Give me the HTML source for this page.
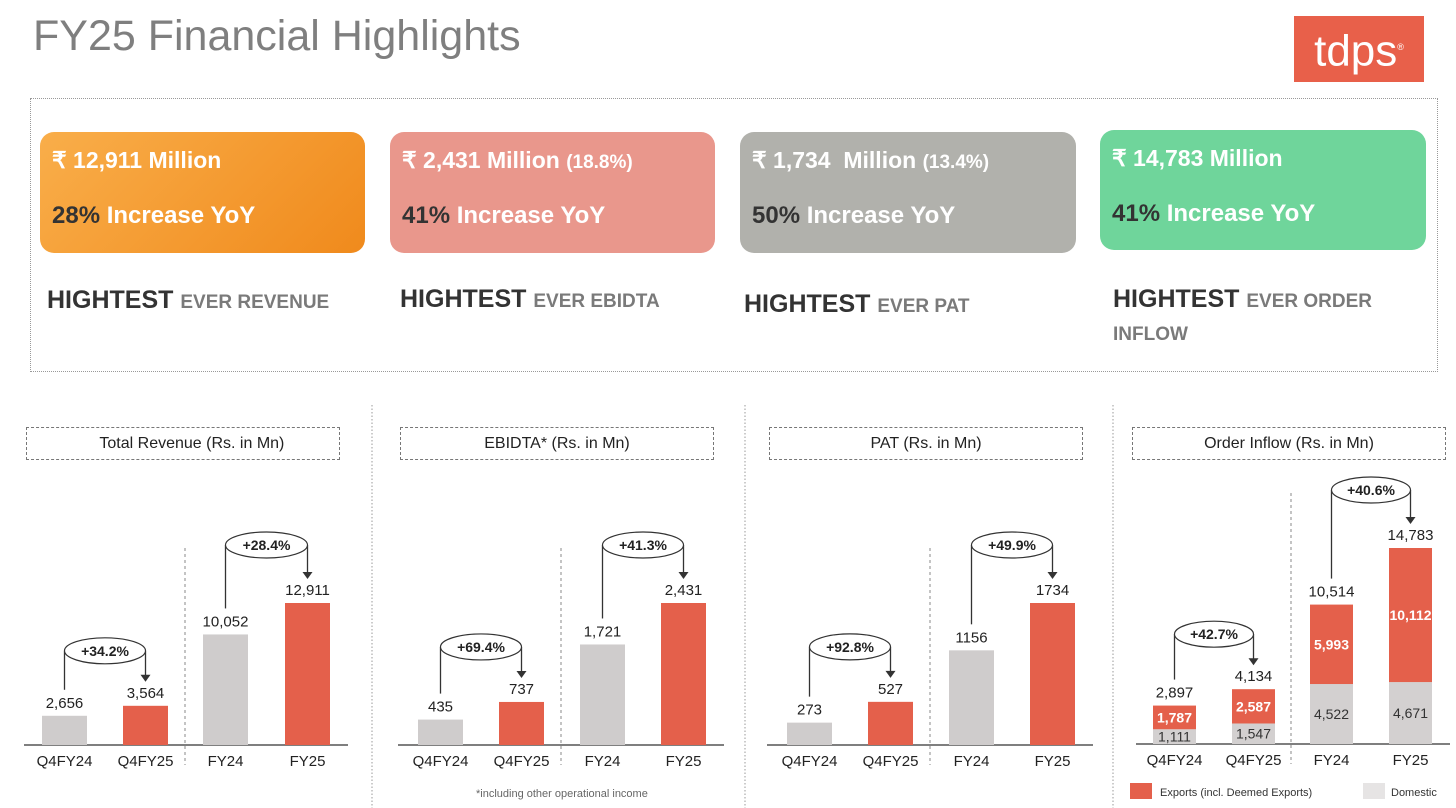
<!DOCTYPE html>
<html><head><meta charset="utf-8">
<style>
body{margin:0;width:1456px;height:808px;background:#fff;position:relative;overflow:hidden;font-family:"Liberation Sans",sans-serif}
.abs{position:absolute}
.card{position:absolute;border-radius:14px;color:#fff;font-weight:bold}
.card .l1{position:absolute;left:12px;top:15px;font-size:23px}
.card .l2{position:absolute;left:12px;top:70px;font-size:24px}
.card .l2 b{color:#333}
.hl{position:absolute;font-weight:bold;color:#333;font-size:25px;line-height:31px}
.hl span{font-size:19px;color:#7a7a7a}
.ttl{position:absolute;border:1px dashed #777;height:33px;box-sizing:border-box;font-size:16px;color:#222;display:flex;align-items:center;justify-content:center}
</style></head><body>
<div class="abs" style="left:33px;top:12px;font-size:43px;color:#7f7f7f">FY25 Financial Highlights</div>
<div class="abs" style="left:1294px;top:16px;width:130px;height:66px;background:#e8604a;color:#fff;font-size:44px;text-align:center;line-height:62px">tdps<sup style="font-size:9px">®</sup></div>
<div class="abs" style="left:30px;top:98px;width:1408px;height:274px;border:1px dotted #999;box-sizing:border-box"></div>

<div class="card" style="left:40px;top:132px;width:325px;height:121px;background:linear-gradient(135deg,#f9ae4a,#f08a1c)"><div class="l1">₹ 12,911 Million</div><div class="l2"><b>28%</b> Increase YoY</div></div>
<div class="card" style="left:390px;top:132px;width:325px;height:121px;background:#e9978c"><div class="l1">₹ 2,431 Million <span style="font-size:19px">(18.8%)</span></div><div class="l2"><b>41%</b> Increase YoY</div></div>
<div class="card" style="left:740px;top:132px;width:336px;height:121px;background:#b1b1ac"><div class="l1">₹ 1,734&nbsp; Million <span style="font-size:19px">(13.4%)</span></div><div class="l2"><b>50%</b> Increase YoY</div></div>
<div class="card" style="left:1100px;top:130px;width:326px;height:120px;background:#6fd59b"><div class="l1">₹ 14,783 Million</div><div class="l2" style="top:70px"><b>41%</b> Increase YoY</div></div>

<div class="hl" style="left:47px;top:285px">HIGHTEST <span>EVER REVENUE</span></div>
<div class="hl" style="left:400px;top:284px">HIGHTEST <span>EVER EBIDTA</span></div>
<div class="hl" style="left:744px;top:289px">HIGHTEST <span>EVER PAT</span></div>
<div class="hl" style="left:1113px;top:284px;width:300px">HIGHTEST <span>EVER ORDER INFLOW</span></div>

<div class="ttl" style="left:26px;top:427px;width:314px">&nbsp;&nbsp;&nbsp;&nbsp;Total Revenue (Rs. in Mn)</div>
<div class="ttl" style="left:400px;top:427px;width:314px">EBIDTA* (Rs. in Mn)</div>
<div class="ttl" style="left:769px;top:427px;width:314px">PAT (Rs. in Mn)</div>
<div class="ttl" style="left:1132px;top:427px;width:314px">Order Inflow (Rs. in Mn)</div>

<svg id="c" class="abs" style="left:0;top:0" width="1456" height="808"></svg>
<script>
const categories=["Q4FY24","Q4FY25","FY24","FY25"];
const revenueValues=[2656,3564,10052,12911];
const revenueLabels=["2,656","3,564","10,052","12,911"];
const revenueGrowth=["+34.2%","+28.4%"];
const ebitdaValues=[435,737,1721,2431];
const ebitdaLabels=["435","737","1,721","2,431"];
const ebitdaGrowth=["+69.4%","+41.3%"];
const patValues=[273,527,1156,1734];
const patLabels=["273","527","1156","1734"];
const patGrowth=["+92.8%","+49.9%"];
const domesticValues=[1111,1547,4522,4671];
const exportValues=[1787,2587,5993,10112];
const orderTotalLabels=["2,897","4,134","10,514","14,783"];
const domesticLabels=["1,111","1,547","4,522","4,671"];
const exportLabels=["1,787","2,587","5,993","10,112"];
const orderGrowth=["+42.7%","+40.6%"];

const svg=document.getElementById('c');
const NS='http://www.w3.org/2000/svg';
function mk(t,a,txt){const e=document.createElementNS(NS,t);for(const k in a)e.setAttribute(k,a[k]);if(txt!==undefined)e.textContent=txt;svg.appendChild(e);return e;}
const RED='#e4604b',GRAY='#cfcccc';
[372,745,1113].forEach((x,i)=>{const l=mk('line',{x1:x,y1:405,x2:x,y2:808,stroke:'#999','stroke-dasharray':'1.5,2'});

});

function chart(name,x0,x1,base,maxVal,maxPx,bx,bw,divX,stacks,labels,growth){
  const y=v=>base-v/maxVal*maxPx;
  const ax=mk('line',{x1:x0,y1:base,x2:x1,y2:base,stroke:'#333','stroke-width':1.2});
  
  
  const dv=mk('line',{x1:divX,y1:y(maxVal)-55,x2:divX,y2:base+20,stroke:'#888','stroke-dasharray':'3,3'});
  
  
  const tops=[];
  categories.forEach((c,i)=>{
    let acc=0;
    stacks.forEach((s,si)=>{
      const v=s.vals[i];
      const fill=s.color?s.color:(i%2?RED:GRAY);
      const r=mk('rect',{x:bx[i],y:y(acc+v),width:bw,height:y(acc)-y(acc+v),fill:fill});
      
      
      if(s.labels){const t=mk('text',{x:bx[i]+bw/2,y:(y(acc)+y(acc+v))/2+5,'text-anchor':'middle','font-size':14,fill:s.lc,'font-weight':s.bold?'bold':'normal'},s.labels[i]);
        
        }
      acc+=v;
    });
    tops.push(y(acc));
    const vl=mk('text',{x:bx[i]+bw/2,y:y(acc)-8,'text-anchor':'middle','font-size':15,fill:'#222'},labels[i]);
    
    
    const cl=mk('text',{x:bx[i]+bw/2,y:base+21,'text-anchor':'middle','font-size':15,fill:'#222'},c);
    
    
  });
  [[0,1],[2,3]].forEach((p,k)=>{
    const xa=bx[p[0]]+bw/2,xb=bx[p[1]]+bw/2;
    const ey=Math.min(tops[p[0]],tops[p[1]])-(k==0?55:58);
    const cx=(xa+xb)/2;
    mk('line',{x1:xa,y1:tops[p[0]]-26,x2:xa,y2:ey,stroke:'#333','stroke-width':1.3});
    mk('line',{x1:xb,y1:ey,x2:xb,y2:tops[p[1]]-30,stroke:'#333','stroke-width':1.3});
    mk('path',{d:`M${xb-5},${tops[p[1]]-31}L${xb+5},${tops[p[1]]-31}L${xb},${tops[p[1]]-24}Z`,fill:'#333'});
    const el=mk('ellipse',{cx:cx,cy:ey,rx:(xb-xa)/2,ry:13,fill:'#fff',stroke:'#333','stroke-width':1.2});
    
    
    const gt=mk('text',{x:cx,y:ey+5,'text-anchor':'middle','font-size':14,'font-weight':'bold',fill:'#222'},growth[k]);
    
    
  });
}
chart('revenue',24,348,745,12911,142,[42,123,203,285],45,185,[{vals:revenueValues}],revenueLabels,revenueGrowth);
chart('ebitda',398,724,745,2431,142,[418,499,580,661],45,561,[{vals:ebitdaValues}],ebitdaLabels,ebitdaGrowth);
chart('pat',767,1093,745,1734,142,[787,868,949,1030],45,930,[{vals:patValues}],patLabels,patGrowth);
chart('order',1136,1450,744,14783,196,[1153,1232,1310,1389],43,1291,
 [{key:'domestic',vals:domesticValues,color:'#d3d0d0',labels:domesticLabels,lc:'#333'},
  {key:'exports',vals:exportValues,color:RED,labels:exportLabels,lc:'#fff',bold:true}],orderTotalLabels,orderGrowth);
const l1=mk('rect',{x:1130,y:783,width:22,height:16,fill:RED});


const l2=mk('text',{x:1160,y:796,'font-size':11,fill:'#333'},'Exports (incl. Deemed Exports)');


const l3=mk('rect',{x:1363,y:783,width:22,height:16,fill:'#e6e4e4'});


const l4=mk('text',{x:1391,y:796,'font-size':11,fill:'#333'},'Domestic');


const fn=mk('text',{x:476,y:797,'font-size':11,fill:'#666'},'*including other operational income');


</script>
</body></html>
